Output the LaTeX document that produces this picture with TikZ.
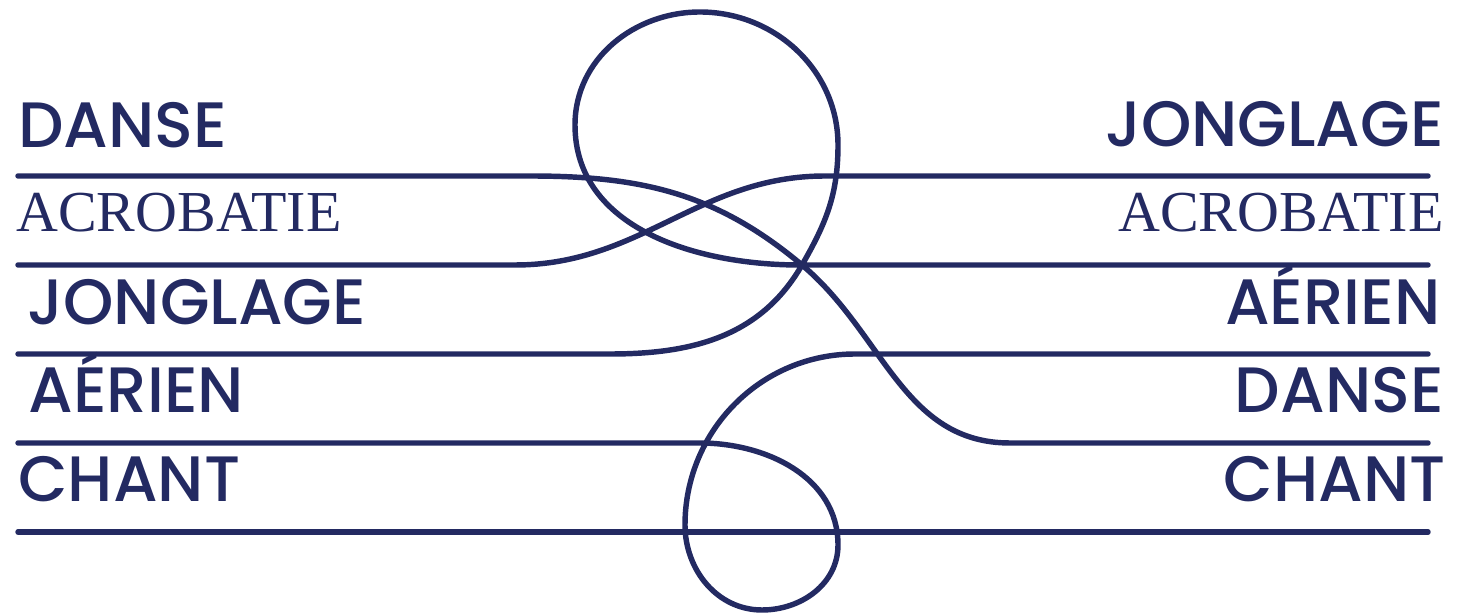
\documentclass[tikz,border=0pt]{standalone}
\usepackage{fontspec}
\usepackage{xcolor}
\usetikzlibrary{positioning}
\newfontfamily\labelfont{Poppins}[UprightFont=* Medium]
\newfontfamily\acrofont{Liberation Serif}
\definecolor{circusNavy}{RGB}{35,42,98}
\colorlet{navy}{circusNavy}

\begin{document}
\begin{tikzpicture}[x=0.02cm,y=-0.02cm,color=navy,
  strand/.style={line width=3.1pt,line cap=round},
  lbl/.style={inner sep=0pt,font=\labelfont\fontsize{36.5}{40}\selectfont},
  acro/.style={inner sep=0pt,font=\acrofont\fontsize{33}{38}\selectfont}]
\useasboundingbox (0,0) rectangle (1468,614);
% left labels
\node[lbl,anchor=base west] (ldanse) at (18,148) {DANSE};
\node[acro,anchor=base west] (lacro) at (16,232) {ACROBATIE};
\node[lbl,anchor=base west] (ljong) at (27,325) {JONGLAGE};
\node[lbl,anchor=base west] (laer) at (28,413) {AÉRIEN};
\node[lbl,anchor=base west] (lchant) at (18,502) {CHANT};
% right labels
\node[lbl,anchor=base east] (rjong) at (1444,147) {JONGLAGE};
\node[acro,anchor=base east] (racro) at (1444,232) {ACROBATIE};
\node[lbl,anchor=base east] (raer) at (1441,325) {AÉRIEN};
\node[lbl,anchor=base east] (rdanse) at (1444,413) {DANSE};
\node[lbl,anchor=base east] (rchant) at (1446,502) {CHANT};
% line ends
\coordinate (l1) at (18,176);  \coordinate (r1) at (1428,176);
\coordinate (l2) at (18,265);  \coordinate (r2) at (1428,265);
\coordinate (l3) at (18,354);  \coordinate (r3) at (1428,354);
\coordinate (l4) at (18,443);  \coordinate (r4) at (1428,443);
\coordinate (l5) at (18,532);  \coordinate (r5) at (1428,532);
% danse strand
\draw[strand] (l1) -- (530,176) to[out=0,in=140] (802,265) to[out=-40,in=180] (1010,443) -- (r4);
% acrobatie strand
\draw[strand] (l2) -- (515,265) to[out=0,in=180] (825,176) -- (r1);
% top loop
\draw[strand] (l3) -- (610,354) to[out=0,in=240] (802,265) to[out=60,in=-90] (838,145)
  to[out=90,in=0] (700,12) to[out=180,in=90] (575,125) to[out=-90,in=180] (800,265) -- (r2);
% bottom loop
\draw[strand] (l4) -- (700,443) to[out=0,in=90] (838,545) to[out=-90,in=0] (762,610)
  to[out=180,in=-90] (685,525) to[out=90,in=180] (855,354) -- (r3);
% chant
\draw[strand] (l5) -- (r5);
\end{tikzpicture}
\end{document}
